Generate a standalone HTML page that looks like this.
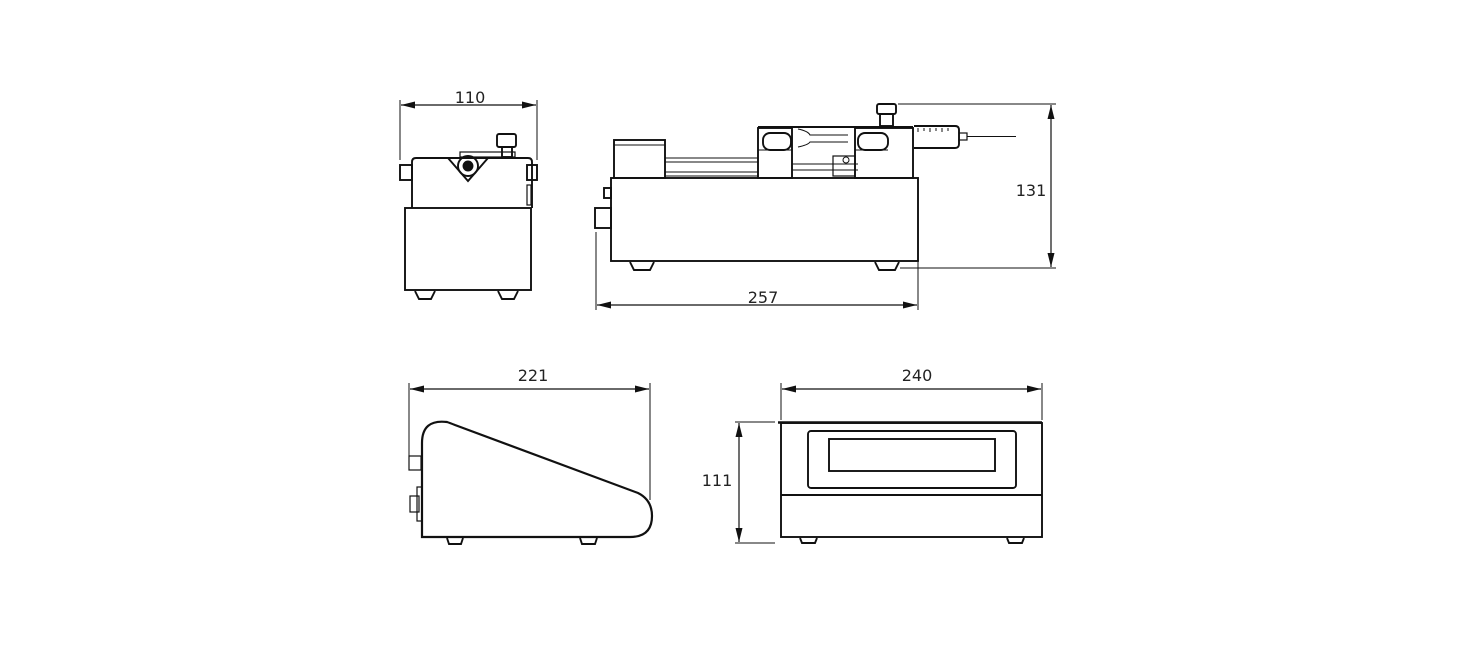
<!DOCTYPE html>
<html><head><style>html,body{margin:0;padding:0;background:#fff}svg{display:block}</style></head>
<body>
<svg width="1480" height="672" viewBox="0 0 1480 672" xmlns="http://www.w3.org/2000/svg">
<defs>
<marker id="a" viewBox="0 0 14 7" refX="14" refY="3.5" markerWidth="14" markerHeight="7" orient="auto-start-reverse" markerUnits="userSpaceOnUse"><path d="M0,0 L14,3.5 L0,7 z" fill="#111"/></marker>
</defs>
<g fill="none" stroke="#111" stroke-width="1.9" font-family="Liberation Sans, DejaVu Sans, sans-serif">
<!-- Front view -->
<line x1="400" y1="100" x2="400" y2="160" stroke-width="1"/>
<line x1="537" y1="100" x2="537" y2="160" stroke-width="1"/>
<line x1="401" y1="105" x2="536" y2="105" stroke-width="1.2" marker-start="url(#a)" marker-end="url(#a)"/>
<path d="M412,208 V162 Q412,158 416,158 H528 Q532,158 532,162 V208"/>
<rect x="400" y="165" width="12" height="15"/>
<rect x="527" y="165" width="10" height="15"/>
<rect x="527" y="185" width="4" height="20" stroke-width="1.2"/>
<rect x="405" y="208" width="126" height="82"/>
<path d="M415,291 l4,8 h12 l4,-8 M498,291 l4,8 h12 l4,-8"/>
<rect x="460" y="152" width="55" height="5" stroke-width="1.2"/>
<rect x="497" y="134" width="19" height="13" rx="2"/>
<rect x="502" y="147" width="10" height="10"/>
<path d="M448,158 L468,181 L488,158"/>
<circle cx="468" cy="166" r="10"/>
<circle cx="468" cy="166" r="4.5" fill="#111"/>
<!-- Side view -->
<rect x="611" y="178" width="307" height="83"/>
<path d="M630,262 l4,8 h16 l4,-8 M875,262 l4,8 h16 l4,-8"/>
<rect x="604" y="188" width="7" height="10"/>
<rect x="595" y="208" width="16" height="20"/>
<rect x="614" y="140" width="51" height="38"/>
<line x1="614" y1="145" x2="665" y2="145" stroke-width="1"/>
<path d="M665,158 H758 M665,162 H758 M665,172 H758 M665,176 H758" stroke-width="1.1"/>
<rect x="758" y="128" width="34" height="50"/>
<rect x="763" y="133" width="28" height="17" rx="7"/>
<line x1="758" y1="150" x2="792" y2="150" stroke-width="1.1"/>
<path d="M758,127 H913" stroke-width="2"/>
<path d="M798,129 Q808,131 810,135 L848,135 M798,147 Q808,145 810,142 L848,142" stroke-width="1.1"/>
<path d="M792,164 H858 M792,170 H858" stroke-width="1.1"/>
<rect x="833" y="156" width="22" height="20" stroke-width="1.2"/>
<circle cx="846" cy="160" r="3" stroke-width="1"/>
<rect x="855" y="128" width="58" height="50"/>
<rect x="858" y="133" width="30" height="17" rx="7"/>
<line x1="855" y1="150" x2="888" y2="150" stroke-width="1.1"/>
<rect x="877" y="104" width="19" height="10" rx="2"/>
<rect x="880" y="114" width="13" height="12"/>
<path d="M914,126 H955 Q959,126 959,130 V144 Q959,148 955,148 H914"/>
<path d="M918,128 v4 M924,128 v3 M930,128 v4 M936,128 v3 M942,128 v4 M948,128 v3" stroke-width="1"/>
<rect x="959" y="133" width="8" height="7" stroke-width="1.2"/>
<line x1="967" y1="136.5" x2="1016" y2="136.5" stroke-width="1"/>
<!-- 131 dim -->
<line x1="898" y1="104" x2="1056" y2="104" stroke-width="1"/>
<line x1="900" y1="268" x2="1056" y2="268" stroke-width="1"/>
<line x1="1051" y1="105" x2="1051" y2="267" stroke-width="1.2" marker-start="url(#a)" marker-end="url(#a)"/>
<!-- 257 dim -->
<line x1="596" y1="232" x2="596" y2="310" stroke-width="1"/>
<line x1="918" y1="262" x2="918" y2="310" stroke-width="1"/>
<line x1="597" y1="305" x2="917" y2="305" stroke-width="1.2" marker-start="url(#a)" marker-end="url(#a)"/>
<!-- Bottom-left -->
<line x1="409" y1="383" x2="409" y2="470" stroke-width="1"/>
<line x1="650" y1="383" x2="650" y2="500" stroke-width="1"/>
<line x1="410" y1="389" x2="649" y2="389" stroke-width="1.2" marker-start="url(#a)" marker-end="url(#a)"/>
<path d="M422,537 V443 Q422,419 447,422 Q450,423 455,425 L638,493 Q652,500 652,516 Q652,537 630,537 Z" stroke-width="2.2"/>
<path d="M447,538 l2,6 h12 l2,-6 M580,538 l2,6 h13 l2,-6"/>
<rect x="409" y="456" width="12" height="14" stroke-width="1.2"/>
<rect x="417" y="487" width="5" height="34" stroke-width="1.2"/>
<rect x="410" y="496" width="9" height="16" stroke-width="1.2"/>
<!-- Bottom-right -->
<line x1="781" y1="383" x2="781" y2="420" stroke-width="1"/>
<line x1="1042" y1="383" x2="1042" y2="420" stroke-width="1"/>
<line x1="782" y1="389" x2="1041" y2="389" stroke-width="1.2" marker-start="url(#a)" marker-end="url(#a)"/>
<rect x="781" y="423" width="261" height="114"/>
<line x1="778" y1="422.5" x2="1042" y2="422.5" stroke-width="2.5"/>
<line x1="781" y1="495" x2="1042" y2="495"/>
<rect x="808" y="431" width="208" height="57" rx="3"/>
<rect x="829" y="439" width="166" height="32"/>
<path d="M800,538 l2,5 h13 l2,-5 M1007,538 l2,5 h13 l2,-5"/>
<line x1="735" y1="422" x2="775" y2="422" stroke-width="1"/>
<line x1="735" y1="543" x2="775" y2="543" stroke-width="1"/>
<line x1="739" y1="423" x2="739" y2="542" stroke-width="1.2" marker-start="url(#a)" marker-end="url(#a)"/>
</g>
<g font-family="DejaVu Sans, Liberation Sans, sans-serif" font-size="16" fill="#222" text-anchor="middle">
<text x="470" y="103">110</text>
<text x="763" y="303">257</text>
<text x="1031" y="196">131</text>
<text x="533" y="381">221</text>
<text x="917" y="381">240</text>
<text x="717" y="486">111</text>
</g>
</svg>
</body></html>
